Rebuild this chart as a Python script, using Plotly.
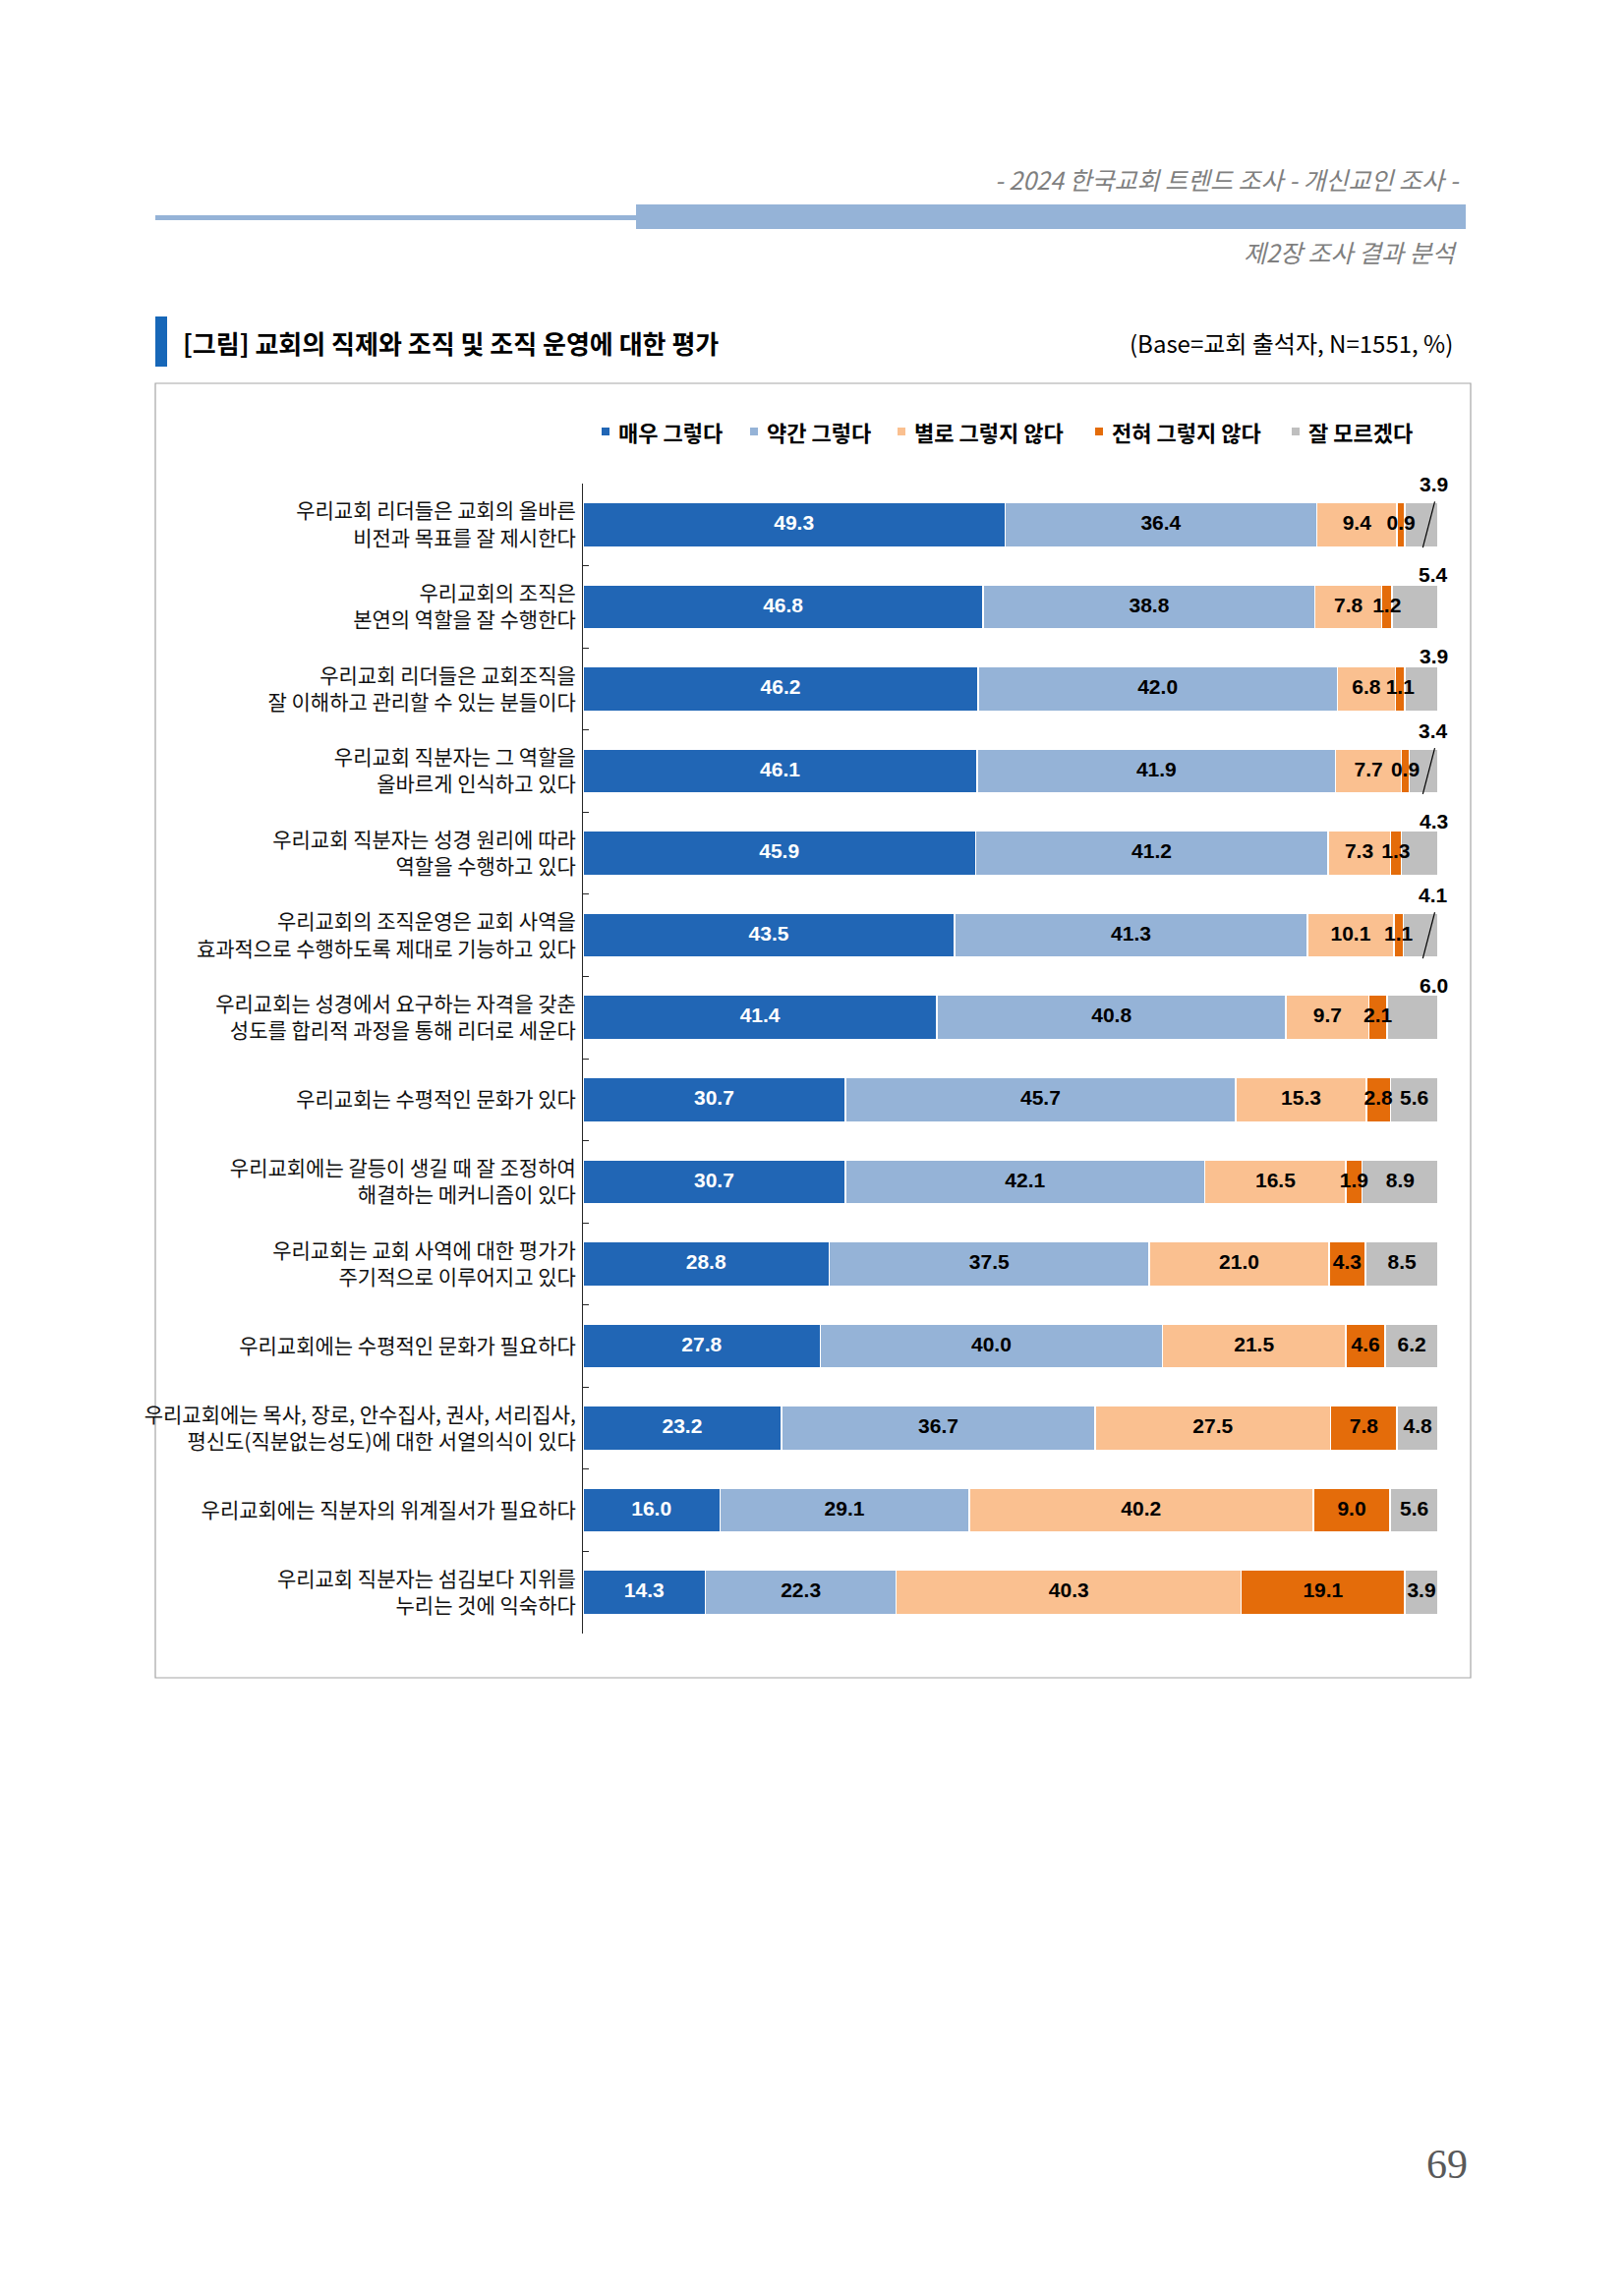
import plotly.graph_objects as go

# ---------------- data ----------------
categories = [
    "우리교회 리더들은 교회의 올바른<br>비전과 목표를 잘 제시한다",
    "우리교회의 조직은<br>본연의 역할을 잘 수행한다",
    "우리교회 리더들은 교회조직을<br>잘 이해하고 관리할 수 있는 분들이다",
    "우리교회 직분자는 그 역할을<br>올바르게 인식하고 있다",
    "우리교회 직분자는 성경 원리에 따라<br>역할을 수행하고 있다",
    "우리교회의 조직운영은 교회 사역을<br>효과적으로 수행하도록 제대로 기능하고 있다",
    "우리교회는 성경에서 요구하는 자격을 갖춘<br>성도를 합리적 과정을 통해 리더로 세운다",
    "우리교회는 수평적인 문화가 있다",
    "우리교회에는 갈등이 생길 때 잘 조정하여<br>해결하는 메커니즘이 있다",
    "우리교회는 교회 사역에 대한 평가가<br>주기적으로 이루어지고 있다",
    "우리교회에는 수평적인 문화가 필요하다",
    "우리교회에는 목사, 장로, 안수집사, 권사, 서리집사,<br>평신도(직분없는성도)에 대한 서열의식이 있다",
    "우리교회에는 직분자의 위계질서가 필요하다",
    "우리교회 직분자는 섬김보다 지위를<br>누리는 것에 익숙하다",
]
series_names = ["매우 그렇다", "약간 그렇다", "별로 그렇지 않다", "전혀 그렇지 않다", "잘 모르겠다"]
very_yes = [49.3, 46.8, 46.2, 46.1, 45.9, 43.5, 41.4, 30.7, 30.7, 28.8, 27.8, 23.2, 16.0, 14.3]
some_yes = [36.4, 38.8, 42.0, 41.9, 41.2, 41.3, 40.8, 45.7, 42.1, 37.5, 40.0, 36.7, 29.1, 22.3]
not_much = [9.4, 7.8, 6.8, 7.7, 7.3, 10.1, 9.7, 15.3, 16.5, 21.0, 21.5, 27.5, 40.2, 40.3]
not_at_all = [0.9, 1.2, 1.1, 0.9, 1.3, 1.1, 2.1, 2.8, 1.9, 4.3, 4.6, 7.8, 9.0, 19.1]
dont_know = [3.9, 5.4, 3.9, 3.4, 4.3, 4.1, 6.0, 5.6, 8.9, 8.5, 6.2, 4.8, 5.6, 3.9]

# rows whose "잘 모르겠다" label sits above the bar, and rows with a leader line
gray_above_rows = [0, 1, 2, 3, 4, 5, 6]
leader_rows = [0, 3, 5]

# ---------------- style ----------------
colors = ["#2166B5", "#95B3D7", "#FAC090", "#E46C0A", "#BFBFBF"]
text_colors = ["white", "black", "black", "black", "black"]
KR = "Noto Sans CJK KR, Noto Sans, sans-serif"
NUM = "Liberation Sans, Arial, sans-serif"
VAL_SIZE = 21

W, H = 1652, 2336
PL, PR, PT, PB = 593, 1463, 492, 1662


def px(x):
    return (x - PL) / (PR - PL)


def py(y):
    return (PB - y) / (PB - PT)


series = [very_yes, some_yes, not_much, not_at_all, dont_know]
n = len(categories)
totals = [sum(s[i] for s in series) for i in range(n)]

fig = go.Figure()
for k, (name, vals) in enumerate(zip(series_names, series)):
    fig.add_trace(go.Bar(
        name=name,
        y=categories,
        x=vals,
        orientation="h",
        marker=dict(color=colors[k], line=dict(color="white", width=1.5)),
        hoverinfo="skip",
        showlegend=False,
    ))

# value labels, drawn on top of all bars at each segment's centre (100% scale)
for k, vals in enumerate(series):
    centers = []
    texts = []
    for i in range(n):
        before = sum(series[j][i] for j in range(k))
        centers.append((before + vals[i] / 2) / totals[i] * 100)
        texts.append("" if (k == 4 and i in gray_above_rows) else f"{vals[i]:.1f}")
    fig.add_trace(go.Scatter(
        x=centers, y=categories, mode="text", text=texts,
        textposition="middle center",
        textfont=dict(family=NUM, size=VAL_SIZE, color=text_colors[k], weight="bold"),
        hoverinfo="skip", showlegend=False, cliponaxis=False,
    ))

annotations = []
shapes = []

# gray labels above bars (positioned at the end of each 100% bar)
for i in gray_above_rows:
    end = totals[i] / totals[i] * 100
    annotations.append(dict(
        x=end, y=i, xref="x", yref="y", text=f"{dont_know[i]:.1f}",
        showarrow=False, xanchor="center", yanchor="middle",
        xshift=-5, yshift=41 if i in leader_rows else 33,
        font=dict(family=NUM, size=VAL_SIZE, color="black", weight="bold"),
    ))
for i in leader_rows:
    end = totals[i] / totals[i] * 100
    shapes.append(dict(type="line", xref="x", yref="y",
                       x0=end - 0.4, y0=i - 0.28, x1=end - 1.8, y1=i + 0.28,
                       line=dict(color="black", width=1.2)))

# page decorations
shapes += [
    dict(type="rect", xref="paper", yref="paper", x0=px(158), x1=px(647), y0=py(224), y1=py(219),
         fillcolor="#95B3D7", line=dict(width=0), layer="below"),
    dict(type="rect", xref="paper", yref="paper", x0=px(647), x1=px(1491), y0=py(233), y1=py(208),
         fillcolor="#95B3D7", line=dict(width=0), layer="below"),
    dict(type="rect", xref="paper", yref="paper", x0=px(158), x1=px(170), y0=py(373), y1=py(322),
         fillcolor="#1767B8", line=dict(width=0), layer="below"),
    dict(type="rect", xref="paper", yref="paper", x0=px(158), x1=px(1496), y0=py(1707), y1=py(390),
         fillcolor="rgba(0,0,0,0)", line=dict(color="#A6A6A6", width=1.2), layer="below"),
]

annotations += [
    dict(xref="paper", yref="paper", x=px(1487), y=py(182), xanchor="right", yanchor="middle",
         text="- 2024 한국교회 트렌드 조사 - 개신교인 조사 -", showarrow=False,
         font=dict(family=KR, size=25, color="#7F7F7F", style="italic")),
    dict(xref="paper", yref="paper", x=px(1485), y=py(256), xanchor="right", yanchor="middle",
         text="제2장 조사 결과 분석", showarrow=False,
         font=dict(family=KR, size=25, color="#7F7F7F", style="italic")),
    dict(xref="paper", yref="paper", x=px(184), y=py(348), xanchor="left", yanchor="middle",
         text="[그림] 교회의 직제와 조직 및 조직 운영에 대한 평가", showarrow=False,
         font=dict(family=KR, size=26, color="black", weight="bold")),
    dict(xref="paper", yref="paper", x=px(1480), y=py(348), xanchor="right", yanchor="middle",
         text="(Base=교회 출석자, N=1551, %)", showarrow=False,
         font=dict(family=KR, size=24, color="black")),
    dict(xref="paper", yref="paper", x=px(1472), y=py(2202), xanchor="center", yanchor="middle",
         text="69", showarrow=False,
         font=dict(family="Liberation Serif, DejaVu Serif, serif", size=42, color="#595959")),
]

# manual legend
legend_x = [612, 763, 913, 1114, 1314]
for k, name in enumerate(series_names):
    x0 = legend_x[k]
    shapes.append(dict(type="rect", xref="paper", yref="paper",
                       x0=px(x0), x1=px(x0 + 8), y0=py(443), y1=py(435),
                       fillcolor=colors[k], line=dict(width=0)))
    annotations.append(dict(xref="paper", yref="paper", x=px(x0 + 15), y=py(439),
                            xanchor="left", yanchor="middle", text=name, showarrow=False,
                            font=dict(family=KR, size=22, color="black", weight="bold")))

fig.update_layout(
    width=W, height=H,
    margin=dict(l=PL, r=W - PR, t=PT, b=H - PB, pad=0, autoexpand=False),
    paper_bgcolor="white", plot_bgcolor="white",
    barmode="stack", barnorm="percent", bargap=0.46,
    showlegend=False,
    shapes=shapes, annotations=annotations,
    xaxis=dict(range=[0, 100], visible=False, fixedrange=True),
    yaxis=dict(
        type="category", categoryorder="array", categoryarray=categories,
        range=[n - 0.5, -0.5], autorange=False,
        showline=True, linecolor="#262626", linewidth=1,
        ticks="inside", tickson="boundaries", ticklen=6, tickcolor="#262626", tickwidth=1,
        tickfont=dict(family=KR, size=21, color="#111111"),
        ticklabelstandoff=2,
        showgrid=False, zeroline=False, automargin=False,
    ),
)

fig.write_html("out.html")
